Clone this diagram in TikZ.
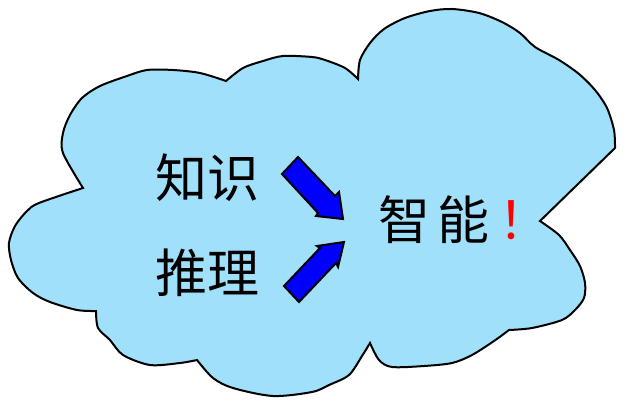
\documentclass[tikz,border=0pt]{standalone}
\usepackage{fontspec}
\newfontfamily\cjk{Noto Sans CJK SC}
\definecolor{cloudblue}{RGB}{160,224,250}
\definecolor{arrowblue}{RGB}{0,0,255}
\tikzset{
  bigword/.style={inner sep=0pt,font=\cjk\fontsize{26pt}{30pt}\selectfont},
  blockarrow/.style={draw=black,line width=1pt,fill=arrowblue,line join=miter}
}

\begin{document}
\begin{tikzpicture}[x=0.5pt,y=-0.5pt]
\useasboundingbox (0,0) rectangle (624,406);
\draw[line width=1pt,fill=cloudblue,line join=miter]
  plot[smooth] coordinates {(83,188) (63,153) (63,133) (70,115) (82,98) (100,86) (127,76) (147,70) (173,70) (200,73) (226,81)}
  -- plot[smooth] coordinates {(226,81) (243,68) (263,61) (283,56) (312,57) (325,60) (345,68) (358,79)}
  -- plot[smooth] coordinates {(358,79) (360,60) (370,43) (384,29) (405,18) (430,11) (452,9) (479,13) (502,22) (520,33) (535,47) (559,60) (579,74) (595,90) (607,108) (614,130) (615,148)}
  -- (540,221)
  -- plot[smooth] coordinates {(540,221) (559,235) (570,250) (580,266) (585,283) (584,298) (575,310) (562,320) (532,328) (509,330)}
  -- plot[smooth] coordinates {(509,330) (494,341) (472,355) (452,363) (424,366) (392,367) (379,360) (370,343)}
  -- plot[smooth] coordinates {(370,343) (362,356) (349,375) (329,385) (312,392) (273,396) (233,388) (213,378) (197,360)}
  -- plot[smooth] coordinates {(197,360) (180,363) (150,365) (123,355) (110,340) (98,328) (96,311)}
  -- plot[smooth] coordinates {(96,311) (77,310) (50,302) (33,293) (18,278) (11,260) (9,243) (15,226) (27,211) (39,203) (83,188)}
  -- cycle;
\node[bigword] (zhishi) at (207,178) {知识};
\node[bigword] (tuili) at (207,273) {推理};
\node[bigword] (zhineng) at (464,220) {智\kern4pt 能\kern4pt\textcolor{red}{！}};
\draw[blockarrow] (282,174) -- (298,157) -- (335,196) -- (339,192) -- (343,219) -- (316,216) -- (318,213) -- cycle;
\draw[blockarrow] (284,286) -- (320,248) -- (317,246) -- (344,242) -- (338,267) -- (336,263) -- (299,302) -- cycle;
\end{tikzpicture}
\end{document}
